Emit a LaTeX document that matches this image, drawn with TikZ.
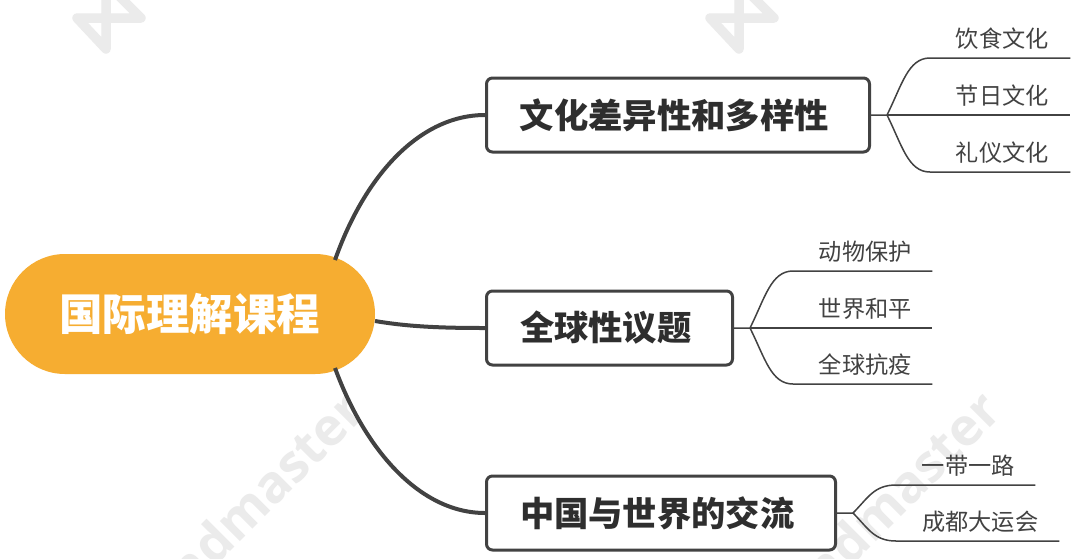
\documentclass[tikz,border=0pt]{standalone}
\usepackage{fontspec}
\setmainfont{Noto Sans CJK SC}
\newfontfamily\markfont{Open Sans}
\definecolor{ink}{HTML}{424242}
\definecolor{pill}{HTML}{F6AD31}
\definecolor{wm}{HTML}{EBEBEB}
\newcommand\topictext[1]{\raisebox{-1pt}{#1}\kern7.5pt\relax}
\tikzset{
  x=1pt,y=-1pt,
  rootnode/.style={fill=pill,rounded corners=60pt,minimum width=370pt,minimum height=120pt,inner sep=0pt,text=white,font=\fontsize{43.5}{43.5}\selectfont\bfseries},
  topicnode/.style={draw=ink,line width=3pt,fill=white,rounded corners=6pt,minimum height=74pt,inner sep=0pt,text=ink!70!black,font=\fontsize{34.3}{34.3}\selectfont\bfseries},
  leafnode/.style={anchor=south west,minimum height=38pt,inner sep=0pt,text=ink,font=\fontsize{23.2}{24}\selectfont},
  mainlink/.style={draw=ink,line width=4pt},
  leaflink/.style={draw=ink,line width=1.5pt},
  marktext/.style={text=wm,font=\markfont\bfseries\fontsize{52}{52}\selectfont,rotate=45,anchor=south east,inner sep=0pt},
  marklogo/.style={draw=wm,line width=9.5pt,line join=round,line cap=round}
}
\begin{document}
\begin{tikzpicture}
\useasboundingbox (0,0) rectangle (1080,558);
\clip (0,0) rectangle (1080,558);
\fill[white] (0,0) rectangle (1080,558);
% watermark
\draw[marklogo] (106,-20) -- (106,49) -- (77,18) -- (141,18) -- (115,-8);
\draw[marklogo] (739,-20) -- (739,49) -- (710,18) -- (774,18) -- (748,-8);
\node[marktext] (wa) at (369,414) {mindmaster};
\node[marktext] (wb) at (1005,414) {mindmaster};
% nodes
\node[rootnode] (root) at (190,314) {国际理解课程};
\node[topicnode,minimum width=383pt] (t1) at (678,115) {\topictext{文化差异性和多样性}};
\node[topicnode,minimum width=246pt] (t2) at (609.5,328) {\topictext{全球性议题}};
\node[topicnode,minimum width=349pt] (t3) at (661,513) {\topictext{中国与世界的交流}};
\node[leafnode,minimum width=136pt] (a1) at (934,58) {饮食文化};
\node[leafnode,minimum width=136pt] (a2) at (934,115) {节日文化};
\node[leafnode,minimum width=136pt] (a3) at (934,172) {礼仪文化};
\node[leafnode,minimum width=134pt] (b1) at (798,271) {动物保护};
\node[leafnode,minimum width=134pt] (b2) at (798,328) {世界和平};
\node[leafnode,minimum width=134pt] (b3) at (798,384) {全球抗疫};
\node[leafnode,minimum width=134pt] (c1) at (901,485) {一带一路};
\node[leafnode,minimum width=158pt] (c2) at (901,541) {成都大运会};
\coordinate (r1) at (335,260);
\coordinate (r2) at (375,321);
\coordinate (r3) at (335,368);
\coordinate (j1) at (887,115);
\coordinate (j2) at (750,328);
\coordinate (j3) at (853,513);
% main links
\draw[mainlink] (r1) .. controls (365,175) and (420,115) .. (t1.west);
\draw[mainlink] (r2) .. controls (410,327) and (445,328) .. (t2.west);
\draw[mainlink] (r3) .. controls (365,450) and (420,513) .. (t3.west);
% leaf links
\draw[leaflink] (t1.east) -- (j1) .. controls (902,85) and (908,58) .. (930,58) -- (a1.south east);
\draw[leaflink] (j1) -- (a2.south east);
\draw[leaflink] (j1) .. controls (902,145) and (908,172) .. (930,172) -- (a3.south east);
\draw[leaflink] (t2.east) -- (j2) .. controls (765,298) and (771,271) .. (793,271) -- (b1.south east);
\draw[leaflink] (j2) -- (b2.south east);
\draw[leaflink] (j2) .. controls (765,358) and (771,384) .. (793,384) -- (b3.south east);
\draw[leaflink] (t3.east) -- (j3) .. controls (868,498) and (874,485) .. (896,485) -- (c1.south east);
\draw[leaflink] (j3) .. controls (868,528) and (874,541) .. (896,541) -- (c2.south east);
\end{tikzpicture}
\end{document}
